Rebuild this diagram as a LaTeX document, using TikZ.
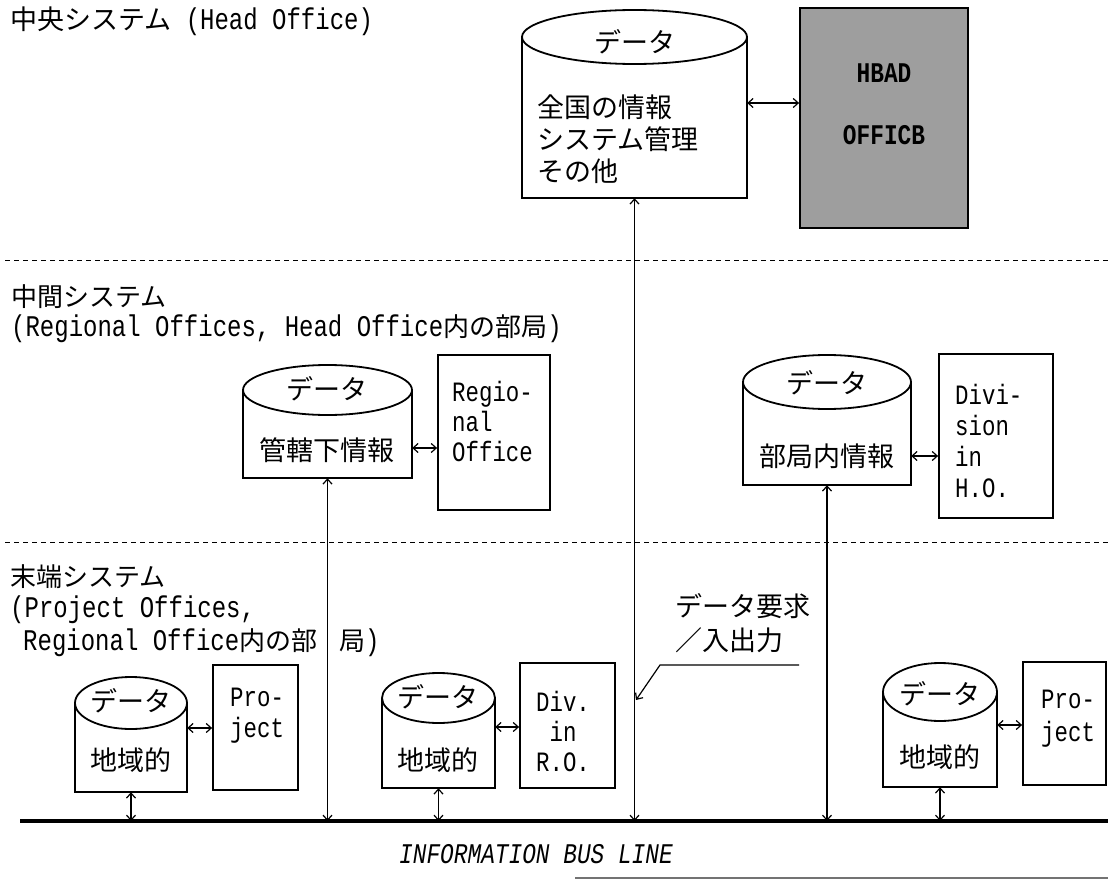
\documentclass[tikz,border=0pt]{standalone}
\usepackage{fontspec}
\setmainfont{Liberation Mono}[FakeStretch=0.8]
\newfontfamily\jpfont{Noto Sans CJK JP}
\usetikzlibrary{arrows.meta,fit}
\newcommand{\Jt}[2]{{\jpfont\fontsize{#1}{#1}\selectfont #2}}
% database cylinder: name, cx, top, bottom, half width, ry
\newcommand{\dbcyl}[6]{%
  \coordinate (#1-nw) at ({#2-#5},#3);
  \coordinate (#1-se) at ({#2+#5},#4);
  \node[fit=(#1-nw)(#1-se), inner sep=0pt] (#1) {};
  \draw[shapeline] ({#2-#5},{#3+#6}) -- ({#2-#5},#4) -- ({#2+#5},#4) -- ({#2+#5},{#3+#6});
  \draw[shapeline] (#2,{#3+#6}) ellipse [x radius=#5pt, y radius=#6pt];
}
% box: name, x1, y1, x2, y2, extra style
\newcommand{\obox}[6]{%
  \coordinate (#1-nw) at (#2,#3);
  \coordinate (#1-se) at (#4,#5);
  \node[officebox, #6, fit=(#1-nw)(#1-se)] (#1) {};
}
\begin{document}
\begin{tikzpicture}[x=1pt,y=-1pt,
  >={Straight Barb[length=5pt,width=9pt]},
  shapeline/.style={line width=1.8pt},
  officebox/.style={draw, line width=1.8pt, inner sep=0pt},
  conn/.style={line width=1.2pt},
  lbl/.style={anchor=west, inner sep=0pt, font=\fontsize{30}{31}\selectfont},
  jtxt/.style={inner sep=0pt, font=\jpfont\fontsize{27}{32}\selectfont},
  btxt/.style={anchor=west, align=left, inner sep=0pt, font=\fontsize{28}{31}\selectfont},
  sepline/.style={line width=1pt, dash pattern=on 5pt off 4pt},
  busline/.style={line width=3.5pt},
]
\useasboundingbox (0,0) rectangle (1108,880);

% ---- level labels
\node[lbl] (hdr) at (10,21) {\Jt{27}{中央システム} (Head Office)};
\node[lbl] (lab2a) at (11,297) {\Jt{26}{中間システム}};
\node[lbl] (lab2b) at (11,329) {(Regional Offices, Head Office\Jt{26}{内の部局})};
\node[lbl] (lab3a) at (10,577) {\Jt{26}{末端システム}};
\node[lbl] (lab3b) at (10,610) {(Project Offices,};
\node[lbl] (lab3c) at (23,643) {Regional Office\Jt{26}{内の部}};
\node[lbl] (lab3d) at (339,643) {\Jt{26}{局})};

% ---- separators and bus
\coordinate (s1L) at (5,260);  \coordinate (s1R) at (1108,260);
\coordinate (s2L) at (5,542);  \coordinate (s2R) at (1108,542);
\draw[sepline] (s1L) -- (s1R);
\draw[sepline] (s2L) -- (s2R);
\coordinate (busL) at (20,821); \coordinate (busR) at (1108,821);
\draw[busline] (busL) -- (busR);
\coordinate (edgeL) at (575,878); \coordinate (edgeR) at (1108,878);
\draw[black!55, line width=1.2pt] (edgeL) -- (edgeR);
\node[inner sep=0pt, font=\itshape\fontsize{28.5}{28.5}\selectfont] (busT) at (536,854) {INFORMATION BUS LINE};

% ---- head office level
\dbcyl{cM}{634.5}{10}{198}{112.5}{27}
\node[jtxt] (cMt) at (635,42) {データ};
\node[jtxt, anchor=west, align=left] (cMb) at (537,139) {全国の情報\\システム管理\\その他};
\obox{ho}{800}{8}{968}{228}{fill=black!38}
\node[inner sep=0pt, align=center, font=\bfseries\fontsize{28.5}{62}\selectfont] (hoT) at (884,104) {HBAD\\OFFICB};
\coordinate (yM) at (0,103);
\draw[conn,<->] (cM.east |- yM) -- (ho.west |- yM);

% ---- middle level
\dbcyl{cR}{327.5}{365}{478}{84.5}{25}
\node[jtxt] (cRt) at (327,389) {データ};
\node[jtxt] (cRb) at (327,450) {管轄下情報};
\obox{bR}{438}{355}{550}{510}{}
\node[btxt, font=\fontsize{28}{30}\selectfont] (bRt) at (452,421) {Regio-\\nal\\Office};
\coordinate (yR) at (0,448);
\draw[conn,<->] (cR.east |- yR) -- (bR.west |- yR);

\dbcyl{cD}{827}{355}{485}{84}{27}
\node[jtxt] (cDt) at (827,383) {データ};
\node[jtxt] (cDb) at (827,456) {部局内情報};
\obox{bD}{939}{354}{1053}{518}{}
\node[btxt] (bDt) at (955,441) {Divi-\\sion\\in\\H.O.};
\coordinate (yD) at (0,456);
\draw[conn,<->] (cD.east |- yD) -- (bD.west |- yD);

% ---- terminal level
\dbcyl{cP1}{131}{677}{792}{56}{26}
\node[jtxt] (cP1t) at (131,701) {データ};
\node[jtxt] (cP1b) at (131,760) {地域的};
\obox{bP1}{213}{665}{298}{790}{}
\node[btxt, font=\fontsize{28}{31}\selectfont] (bP1t) at (230,716) {Pro-\\ject};
\coordinate (yP1) at (0,728);
\draw[conn,<->] (cP1.east |- yP1) -- (bP1.west |- yP1);

\dbcyl{cP2}{438.5}{673}{788}{56.5}{25}
\node[jtxt] (cP2t) at (438,697) {データ};
\node[jtxt] (cP2b) at (438,760) {地域的};
\obox{bP2}{520}{663}{615}{788}{}
\node[inner sep=0pt, align=center, font=\fontsize{28}{30}\selectfont] (bP2t) at (563,731) {Div.\\in\\R.O.};
\coordinate (yP2) at (0,727);
\draw[conn,<->] (cP2.east |- yP2) -- (bP2.west |- yP2);

\dbcyl{cP3}{940}{663}{787}{57}{29}
\node[jtxt] (cP3t) at (940,694) {データ};
\node[jtxt] (cP3b) at (940,757) {地域的};
\obox{bP3}{1023}{662}{1106}{785}{}
\node[btxt, font=\fontsize{28}{33}\selectfont] (bP3t) at (1041,719) {Pro-\\ject};
\coordinate (yP3) at (0,725);
\draw[conn,<->] (cP3.east |- yP3) -- (bP3.west |- yP3);

% ---- bus connections
\draw[conn,<->] (cM.south) -- (cM.south |- busL);
\draw[conn,<->] (cR.south) -- (cR.south |- busL);
\draw[conn,<->] (cD.south) -- (cD.south |- busL);
\draw[conn,<->] (cP1.south) -- (cP1.south |- busL);
\draw[conn,<->] (cP2.south) -- (cP2.south |- busL);
\draw[conn,<->] (cP3.south) -- (cP3.south |- busL);

% ---- callout
\node[jtxt, anchor=west, align=left, font=\jpfont\fontsize{27}{34}\selectfont] (req) at (675,623) {データ要求\\／入出力};
\coordinate (callA) at (799,665);
\coordinate (callK) at (660,665);
\coordinate (callB) at (636,700);
\draw[conn,->] (callA) -- (callK) -- (callB);
\end{tikzpicture}
\end{document}
